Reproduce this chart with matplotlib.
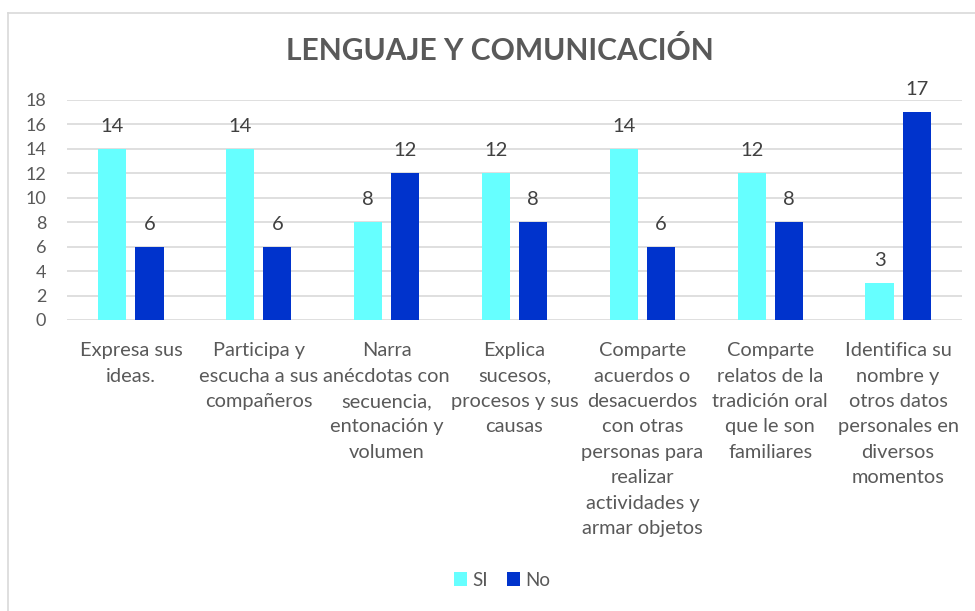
import numpy as np
import matplotlib.pyplot as plt
from matplotlib.lines import Line2D

categorias = ['Expresa sus\nideas.',
              'Participa y\nescucha a sus\ncompañeros',
              'Narra\nanécdotas con\nsecuencia,\nentonación y\nvolumen',
              'Explica\nsucesos,\nprocesos y sus\ncausas',
              'Comparte\nacuerdos o\ndesacuerdos\ncon otras\npersonas para\nrealizar\nactividades y\narmar objetos',
              'Comparte\nrelatos de la\ntradición oral\nque le son\nfamiliares',
              'Identifica su\nnombre y\notros datos\npersonales en\ndiversos\nmomentos']
si = [14, 14, 8, 12, 14, 12, 3]
no = [6, 6, 12, 8, 6, 8, 17]
yticks = list(range(0, 19, 2))

gris = '#595959'
plt.rcParams['font.family'] = ['Lato', 'DejaVu Sans']

fig = plt.figure(figsize=(9.75, 6.11), dpi=100)
ax = fig.add_axes([67/975, 1 - 320/611, (962-67)/975, 220/611])

x = np.arange(len(categorias))
w = 0.22
b1 = ax.bar(x - 0.145, si, w, color='#66FFFF', label='SI', zorder=3)
b2 = ax.bar(x + 0.145, no, w, color='#0033CC', label='No', zorder=3)
for bars in (b1, b2):
    ax.bar_label(bars, padding=10, fontsize=14.5, color='#404040')

ax.set_xlim(-0.5, len(categorias) - 0.5)
ax.set_ylim(0, 18)
ax.set_yticks(yticks)
ax.yaxis.grid(True, color='#d9d9d9', linewidth=1.2, zorder=0)
for s in ax.spines.values():
    s.set_visible(False)
ax.tick_params(axis='y', length=0, labelsize=13, labelcolor=gris, pad=15)
ax.set_xticks(x)
ax.set_xticklabels(categorias, fontsize=14.4, color=gris, linespacing=1.6, va='top')
ax.tick_params(axis='x', length=0, pad=16)

fig.text(0.513, 1 - 50/611, 'LENGUAJE Y COMUNICACIÓN', ha='center', va='center',
         fontsize=21.6, fontweight='bold', color=gris)

fig.legend(loc='center', bbox_to_anchor=(502/975, 1 - 580/611), ncol=2, frameon=False,
           fontsize=13.5, labelcolor=gris, handlelength=0.7, handleheight=0.7,
           handletextpad=0.3, columnspacing=1.0)

fig.add_artist(Line2D([8/975, 8/975], [0, 1 - 13/611], transform=fig.transFigure,
                      color='#d9d9d9', linewidth=1.2))
fig.add_artist(Line2D([8/975, 1], [1 - 13/611, 1 - 13/611], transform=fig.transFigure,
                      color='#d9d9d9', linewidth=1.2))

fig.savefig('out.png', dpi=100)
